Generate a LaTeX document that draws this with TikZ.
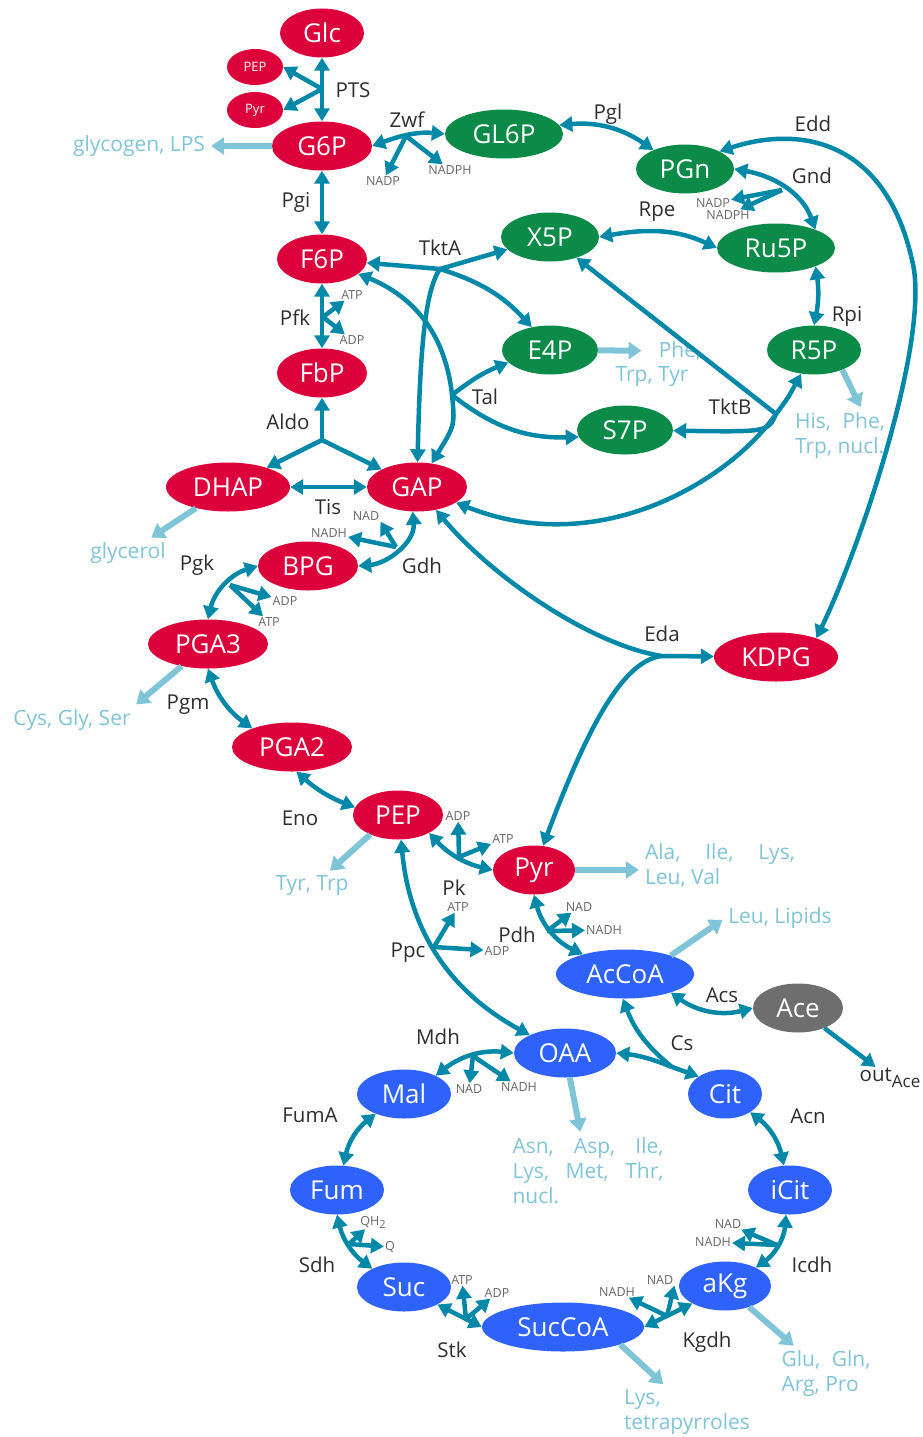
\documentclass[tikz,border=0pt]{standalone}
\usepackage{fontspec}
\setmainfont{Open Sans}
\usetikzlibrary{arrows.meta,shapes.geometric}

\definecolor{glycred}{HTML}{DC003B}
\definecolor{pppgreen}{HTML}{0B8A48}
\definecolor{tcablue}{HTML}{2E62FA}
\definecolor{acegray}{HTML}{6E6E6E}
\definecolor{fluxteal}{HTML}{0088A9}
\definecolor{drainblue}{HTML}{80C4D8}
\definecolor{enzgray}{HTML}{2E2E2E}
\definecolor{cofgray}{HTML}{666666}

\tikzset{
  met/.style={ellipse, inner sep=0pt, minimum height=49pt, text=white, font=\fontsize{26}{28}\selectfont},
  redmet/.style={met, fill=glycred},
  greenmet/.style={met, fill=pppgreen},
  bluemet/.style={met, fill=tcablue},
  smallmet/.style={minimum width=56pt, minimum height=36pt, font=\fontsize{13}{14}\selectfont},
  enz/.style={text=enzgray, inner sep=1pt, font=\fontsize{20.5}{22}\selectfont},
  cof/.style={text=cofgray, inner sep=1pt, font=\fontsize{12.5}{14}\selectfont},
  prod/.style={text=drainblue, inner sep=3pt, font=\fontsize{21}{25}\selectfont},
  flux/.style={draw=fluxteal, line width=4.5pt},
  drain/.style={draw=drainblue, line width=6pt, -{Triangle[length=13pt,width=17pt]}, shorten >=3pt}
}

\begin{document}
\begin{tikzpicture}[x=1pt, y=1pt, >={Triangle[length=13pt,width=15pt]}]
\useasboundingbox (0,0) rectangle (923,-1437);

\node[redmet, minimum width=84pt] (Glc) at (322,-33) {Glc};
\node[redmet, smallmet] (PEPs) at (255,-67) {PEP};
\node[redmet, smallmet] (Pyrs) at (255,-110) {Pyr};
\node[redmet, minimum width=100pt] (G6P) at (322,-146) {G6P};
\node[greenmet, minimum width=118pt] (GL6P) at (504,-134) {GL6P};
\node[greenmet, minimum width=98pt] (PGn) at (685,-169) {PGn};
\node[redmet, minimum width=90pt] (F6P) at (322,-259) {F6P};
\node[greenmet, minimum width=98pt] (X5P) at (550,-237) {X5P};
\node[greenmet, minimum width=118pt] (Ru5P) at (776,-248) {Ru5P};
\node[greenmet, minimum width=96pt] (E4P) at (550,-350) {E4P};
\node[greenmet, minimum width=94pt] (R5P) at (814,-350) {R5P};
\node[redmet, minimum width=90pt] (FbP) at (322,-373) {FbP};
\node[greenmet, minimum width=96pt] (S7P) at (625,-430) {S7P};
\node[redmet, minimum width=124pt] (DHAP) at (228,-487) {DHAP};
\node[redmet, minimum width=100pt] (GAP) at (417,-487) {GAP};
\node[redmet, minimum width=100pt] (BPG) at (308,-566) {BPG};
\node[redmet, minimum width=120pt] (PGA3) at (208,-644) {PGA3};
\node[redmet, minimum width=124pt] (KDPG) at (776,-657) {KDPG};
\node[redmet, minimum width=120pt] (PGA2) at (292,-747) {PGA2};
\node[redmet, minimum width=90pt] (PEP) at (398,-815) {PEP};
\node[redmet, minimum width=82pt] (Pyr) at (534,-870) {Pyr};
\node[bluemet, minimum width=138pt] (AcCoA) at (625,-974) {AcCoA};
\node[met, fill=acegray, minimum width=90pt] (Ace) at (798,-1008) {Ace};
\node[bluemet, minimum width=102pt] (OAA) at (565,-1053) {OAA};
\node[bluemet, minimum width=94pt] (Mal) at (404,-1094) {Mal};
\node[bluemet, minimum width=74pt] (Cit) at (725,-1094) {Cit};
\node[bluemet, minimum width=94pt] (Fum) at (337,-1190) {Fum};
\node[bluemet, minimum width=84pt] (iCit) at (790,-1190) {iCit};
\node[bluemet, minimum width=94pt] (Suc) at (404,-1287) {Suc};
\node[bluemet, minimum width=92pt] (aKg) at (725,-1286) {aKg};
\node[bluemet, minimum width=162pt] (SucCoA) at (563,-1327) {SucCoA};

\node[enz] (PTS) at (353,-90) {PTS};
\node[enz] (Zwf) at (407,-120) {Zwf};
\node[enz] (Pgl) at (608,-114) {Pgl};
\node[enz] (Edd) at (813,-124) {Edd};
\node[enz] (Gnd) at (812,-176) {Gnd};
\node[enz] (Rpe) at (657,-212) {Rpe};
\node[enz] (Pgi) at (296,-202) {Pgi};
\node[enz] (TktA) at (440,-248) {TktA};
\node[enz] (Pfk) at (295,-318) {Pfk};
\node[enz] (Rpi) at (847,-316) {Rpi};
\node[enz] (Tal) at (485,-397) {Tal};
\node[enz] (TktB) at (730,-407) {TktB};
\node[enz] (Aldo) at (288,-422) {Aldo};
\node[enz] (Tis) at (328,-507) {Tis};
\node[enz] (Gdh) at (422,-566) {Gdh};
\node[enz] (Pgk) at (197,-565) {Pgk};
\node[enz] (Eda) at (662,-634) {Eda};
\node[enz] (Pgm) at (188,-705) {Pgm};
\node[enz] (Eno) at (300,-818) {Eno};
\node[enz] (Pk) at (454,-888) {Pk};
\node[enz] (Pdh) at (517,-935) {Pdh};
\node[enz] (Ppc) at (408,-953) {Ppc};
\node[enz] (Acs) at (722,-995) {Acs};
\node[enz] (Cs) at (682,-1043) {Cs};
\node[enz] (Mdh) at (438,-1037) {Mdh};
\node[enz] (FumA) at (310,-1115) {FumA};
\node[enz] (Acn) at (808,-1116) {Acn};
\node[enz] (Icdh) at (812,-1265) {Icdh};
\node[enz] (Sdh) at (317,-1265) {Sdh};
\node[enz] (Stk) at (452,-1350) {Stk};
\node[enz] (Kgdh) at (707,-1342) {Kgdh};
\node[enz] (outAce) at (890,-1078) {out\raisebox{-6pt}{\fontsize{17}{17}\selectfont Ace}};

\node[cof] (nadpZ) at (383,-181) {NADP};
\node[cof] (nadphZ) at (450,-170) {NADPH};
\node[cof] (nadpG) at (713,-203) {NADP};
\node[cof] (nadphG) at (728,-215) {NADPH};
\node[cof] (atpF) at (352,-295) {ATP};
\node[cof] (adpF) at (352,-340) {ADP};
\node[cof] (nadD) at (366,-516) {NAD};
\node[cof] (nadhD) at (329,-533) {NADH};
\node[cof] (adpK) at (285,-601) {ADP};
\node[cof] (atpK) at (269,-622) {ATP};
\node[cof] (adpP) at (458,-816) {ADP};
\node[cof] (atpP) at (503,-839) {ATP};
\node[cof] (atpC) at (458,-907) {ATP};
\node[cof] (adpC) at (497,-951) {ADP};
\node[cof] (nadH) at (579,-907) {NAD};
\node[cof] (nadhH) at (604,-930) {NADH};
\node[cof] (nadM) at (469,-1089) {NAD};
\node[cof] (nadhM) at (519,-1087) {NADH};
\node[cof] (qhS) at (373,-1222) {QH\raisebox{-3pt}{\fontsize{11}{11}\selectfont 2}};
\node[cof] (qS) at (390,-1247) {Q};
\node[cof] (atpS) at (462,-1280) {ATP};
\node[cof] (adpS) at (497,-1293) {ADP};
\node[cof] (nadhK) at (617,-1292) {NADH};
\node[cof] (nadK) at (660,-1280) {NAD};
\node[cof] (nadI) at (728,-1224) {NAD};
\node[cof] (nadhI) at (713,-1242) {NADH};

\node[prod] (glyc) at (139,-146) {glycogen, LPS};
\node[prod] (pheE) at (680,-351) {Phe,};
\node[prod] (trpE) at (652,-377) {Trp, Tyr};
\node[prod, align=left] (hisR) at (840,-436) {\makebox[90pt][s]{His, Phe,}\\Trp, nucl.};
\node[prod] (glycerol) at (128,-553) {glycerol};
\node[prod] (cysP) at (72,-720) {Cys, Gly, Ser};
\node[prod] (tyrP) at (312,-886) {Tyr, Trp};
\node[prod, align=left] (alaP) at (720,-865) {\makebox[150pt][s]{Ala, Ile, Lys,}\\Leu, Val};
\node[prod] (leuA) at (780,-918) {Leu, Lipids};
\node[prod, align=left] (asnO) at (588,-1171) {\makebox[151pt][s]{Asn, Asp, Ile,}\\\makebox[151pt][s]{Lys, Met, Thr,}\\nucl.};
\node[prod, align=left] (gluK) at (826,-1374) {\makebox[89pt][s]{Glu, Gln,}\\Arg, Pro};
\node[prod, align=left] (lysS) at (687,-1412) {Lys,\\tetrapyrroles};

\coordinate (pts) at (322,-89);
\draw[flux,<->] (Glc) -- (G6P);
\draw[flux,->] (pts) -- (PEPs.east);
\draw[flux,->] (pts) -- (Pyrs.east);

\coordinate (zwf) at (406,-136);
\draw[flux,<->] (G6P.east) to[out=20,in=175] (GL6P.west);
\draw[flux,->] (zwf) -- (nadpZ);
\draw[flux,->] (zwf) -- (nadphZ);

\draw[flux,<->] (GL6P) to[bend left=20] (PGn);
\draw[flux,<->] (PGn.27) .. controls (800,-125) and (885,-140) .. (912,-260)
  .. controls (932,-335) and (860,-548) .. (KDPG.25);

\coordinate (gnd) at (782,-190);
\draw[flux,<->] (PGn.east) to[out=-10,in=110] (Ru5P.25);
\draw[flux,->] (gnd) -- (nadpG);
\draw[flux,->] (gnd) -- (nadphG);

\draw[flux,<->] (X5P.east) to[out=10,in=155] (Ru5P.west);
\draw[flux,<->] (Ru5P.-25) to[bend left=10] (R5P.north);

\draw[flux,<->] (G6P) -- (F6P);
\coordinate (pfk) at (323,-317);
\draw[flux,<->] (F6P) -- (FbP);
\draw[flux,->] (pfk) -- (atpF);
\draw[flux,->] (pfk) -- (adpF);

\coordinate (aldo) at (322,-440);
\draw[flux,->] (aldo) -- (FbP);
\draw[flux,->] (aldo) -- (DHAP);
\draw[flux,->] (aldo) -- (GAP);
\draw[flux,<->] (DHAP) -- (GAP);

\coordinate (tkta) at (440,-269);
\draw[flux,->] (tkta) -- (F6P);
\draw[flux,->] (tkta) -- (X5P);
\draw[flux,->] (tkta) to[bend left=15] (E4P);
\draw[flux,->] (tkta) .. controls (425,-290) and (420,-350) .. (GAP);

\coordinate (tal) at (452,-395);
\draw[flux,->] (tal) .. controls (445,-330) and (410,-295) .. (F6P);
\draw[flux,->] (tal) .. controls (455,-425) .. (GAP);
\draw[flux,->] (tal) to[bend left=8] (E4P);
\draw[flux,->] (tal) to[bend right=20] (S7P);

\coordinate (tktb) at (776,-414);
\draw[flux,->] (tktb) -- (X5P);
\draw[flux,->] (tktb) .. controls (768,-432) .. (S7P);
\draw[flux,->] (tktb) .. controls (788,-398) .. (R5P);
\draw[flux,->] (tktb) .. controls (730,-480) and (600,-560) .. (GAP);

\coordinate (gdh) at (396,-547);
\draw[flux,<->] (GAP.-100) to[out=-85,in=5] (BPG.east);
\draw[flux,->] (gdh) -- (nadD.south east);
\draw[flux,->] (gdh) -- (nadhD);

\coordinate (pgk) at (230,-585);
\draw[flux,<->] (BPG.west) to[bend right=30] (PGA3.north);
\draw[flux,->] (pgk) -- (adpK);
\draw[flux,->] (pgk) -- (atpK);

\draw[flux,<->] (PGA3.south) to[bend right=17] (PGA2.155);
\draw[flux,<->] (PGA2.-80) to[bend right=10] (PEP.170);

\coordinate (pk) at (459,-857);
\draw[flux,<->] (PEP.-30) to[bend right=17] (Pyr.west);
\draw[flux,->] (pk) -- (adpP);
\draw[flux,->] (pk) -- (atpP);

\coordinate (eda) at (662,-656);
\draw[flux,->] (eda) .. controls (590,-645) and (490,-575) .. (GAP);
\draw[flux,->] (eda) -- (KDPG);
\draw[flux,->] (eda) .. controls (625,-660) and (590,-720) .. (Pyr);

\coordinate (ppc) at (434,-947);
\draw[flux,<->] (PEP) to[bend right=28] (OAA);
\draw[flux,->] (ppc) -- (atpC);
\draw[flux,->] (ppc) -- (adpC);

\coordinate (pdh) at (547,-931);
\draw[flux,<->] (Pyr.south) to[bend right=25] (AcCoA.155);
\draw[flux,->] (pdh) -- (nadH);
\draw[flux,->] (pdh) -- (nadhH);

\draw[flux,<->] (AcCoA.-22) to[bend right=25] (Ace.west);

\coordinate (cs) at (672,-1067);
\draw[flux,->] (cs) -- (Cit.north west);
\draw[flux,->] (cs) to[bend left=15] (AcCoA.-95);
\draw[flux,->] (cs) to[bend right=8] (OAA.east);

\coordinate (mdh) at (473,-1056);
\draw[flux,<->] (OAA.west) to[bend right=22] (Mal.30);
\draw[flux,->] (mdh) -- (nadM);
\draw[flux,->] (mdh) -- (nadhM);

\draw[flux,<->] (Cit) to[bend left=20] (iCit);

\coordinate (icdh) at (777,-1245);
\draw[flux,<->] (iCit) to[bend left=25] (aKg);
\draw[flux,->] (icdh) -- (nadI);
\draw[flux,->] (icdh) -- (nadhI);

\coordinate (kgdh) at (667,-1316);
\draw[flux,<->] (SucCoA.east) -- (aKg.south west);
\draw[flux,->] (kgdh) -- (nadK.south east);
\draw[flux,->] (kgdh) -- (nadhK);

\coordinate (stk) at (466,-1319);
\draw[flux,<->] (SucCoA.west) -- (Suc.south east);
\draw[flux,->] (stk) -- (atpS);
\draw[flux,->] (stk) -- (adpS);

\coordinate (sdh) at (349,-1244);
\draw[flux,<->] (Fum.south) to[bend right=20] (Suc.150);
\draw[flux,->] (sdh) -- (qhS);
\draw[flux,->] (sdh) -- (qS);

\draw[flux,<->] (Fum) to[bend left=20] (Mal);
\draw[flux,->] (Ace) -- (outAce);

\draw[drain] (G6P) -- (glyc);
\draw[drain, shorten >=14pt] (E4P) -- (pheE);
\draw[drain] (R5P.-35) -- (hisR.50);
\draw[drain] (DHAP) -- (glycerol);
\draw[drain] (PGA3) -- (cysP.north east);
\draw[drain] (PEP.-145) -- (tyrP.40);
\draw[drain] (Pyr) -- (alaP.west |- Pyr);
\draw[drain] (AcCoA.22) -- (leuA.west);
\draw[drain] (OAA) -- (asnO);
\draw[drain] (aKg) -- (gluK);
\draw[drain] (SucCoA.-17) -- (lysS.130);
\end{tikzpicture}
\end{document}
